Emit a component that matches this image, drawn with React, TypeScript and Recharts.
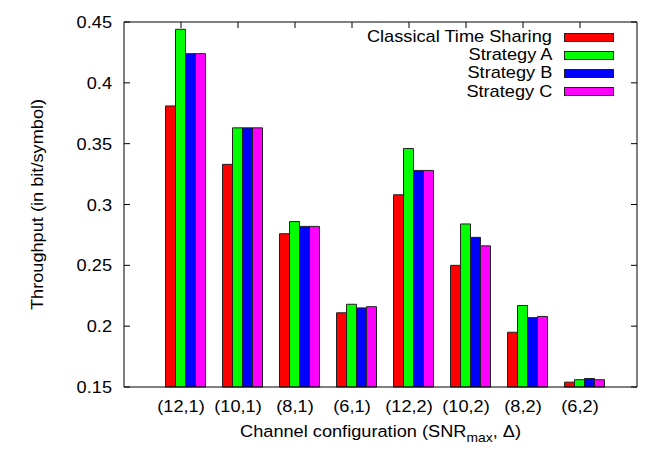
import React from "react";
import { BarChart, Bar, XAxis, YAxis, Legend, CartesianGrid } from "recharts";

const categories = ["(12,1)", "(10,1)", "(8,1)", "(6,1)", "(12,2)", "(10,2)", "(8,2)", "(6,2)"];
const classical = [0.381, 0.333, 0.276, 0.211, 0.308, 0.25, 0.195, 0.154];
const strategyA = [0.444, 0.363, 0.286, 0.218, 0.346, 0.284, 0.217, 0.156];
const strategyB = [0.424, 0.363, 0.282, 0.215, 0.328, 0.273, 0.207, 0.157];
const strategyC = [0.424, 0.363, 0.282, 0.216, 0.328, 0.266, 0.208, 0.156];
const yTicks = [0.15, 0.2, 0.25, 0.3, 0.35, 0.4, 0.45];

const seriesNames = ["Classical Time Sharing", "Strategy A", "Strategy B", "Strategy C"];
const seriesKeys = ["classical", "a", "b", "c"];
const seriesColors = ["#ff0000", "#00ff00", "#0000ff", "#ff00ff"];

const data = categories.map((name, i) => ({
  name,
  classical: classical[i],
  a: strategyA[i],
  b: strategyB[i],
  c: strategyC[i],
}));

const CHART_W = 664;
const CHART_H = 465;
const MARGIN = { top: 22, right: 27, bottom: 0, left: 0 };
const PLOT_RIGHT = CHART_W - MARGIN.right;

const FONT = "'Liberation Sans', Arial, Helvetica, sans-serif";
const FS = 17;
const SX = 1.07;
const TICK_LEN = 6;

const XTick = (props: any) => {
  const { x, y, payload } = props;
  const tx = x - 4;
  return (
    <g>
      <line x1={tx} x2={tx} y1={MARGIN.top} y2={MARGIN.top + TICK_LEN} stroke="#000" strokeWidth={1} />
      <g transform={`translate(${tx},${y + 25})`}>
        <text transform={`scale(${SX},1)`} textAnchor="middle" fontSize={FS} fontFamily={FONT} fill="#000">
          {payload.value}
        </text>
      </g>
    </g>
  );
};

const LeftTick = (props: any) => {
  const { x, y, payload } = props;
  return (
    <g>
      <line x1={x} x2={x + TICK_LEN} y1={y} y2={y} stroke="#000" strokeWidth={1} />
      <line x1={PLOT_RIGHT - TICK_LEN} x2={PLOT_RIGHT} y1={y} y2={y} stroke="#000" strokeWidth={1} />
      <g transform={`translate(${x - 12},${y + 6})`}>
        <text transform={`scale(${SX},1)`} textAnchor="end" fontSize={FS} fontFamily={FONT} fill="#000">
          {String(payload.value)}
        </text>
      </g>
    </g>
  );
};

const YTitle = (props: any) => {
  const vb = props.viewBox || { x: 0, y: 22, width: 124, height: 365 };
  const cx = vb.x + 37.5;
  const cy = vb.y + vb.height / 2;
  return (
    <g transform={`translate(${cx},${cy}) rotate(-90)`}>
      <text
        transform={`scale(${SX},1)`}
        textAnchor="middle"
        dominantBaseline="central"
        fontSize={FS}
        fontFamily={FONT}
        fill="#000"
      >
        Throughput (in bit/symbol)
      </text>
    </g>
  );
};

const XTitle = (props: any) => {
  const vb = props.viewBox || { x: 124, y: 387, width: 513, height: 78 };
  const cx = vb.x + vb.width / 2;
  const cy = vb.y + 50;
  return (
    <g transform={`translate(${cx},${cy})`}>
      <text transform={`scale(${SX},1)`} textAnchor="middle" fontSize={FS} fontFamily={FONT} fill="#000">
        <tspan>Channel configuration (SNR</tspan>
        <tspan fontSize={13} dy={5}>max</tspan>
        <tspan dy={-5}>, Δ)</tspan>
      </text>
    </g>
  );
};

const LegendContent = () => (
  <div style={{ fontFamily: FONT, fontSize: FS, color: "#000" }}>
    {seriesNames.map((n, i) => (
      <div
        key={n}
        style={{ display: "flex", alignItems: "center", justifyContent: "flex-end", height: 18.2 }}
      >
        <span
          style={{
            display: "inline-block",
            transform: `scaleX(${SX})`,
            transformOrigin: "right center",
            whiteSpace: "nowrap",
            lineHeight: "18px",
          }}
        >
          {n}
        </span>
        <span
          style={{
            display: "inline-block",
            width: 48,
            height: 7,
            marginLeft: 12,
            background: seriesColors[i],
            border: "1px solid #222",
          }}
        />
      </div>
    ))}
  </div>
);

export default function App() {
  return (
    <div style={{ position: "absolute", left: 0, top: 0, width: CHART_W, height: CHART_H, background: "#fff" }}>
      <BarChart
        width={CHART_W}
        height={CHART_H}
        data={data}
        margin={MARGIN}
        barCategoryGap={9}
        barGap={0}
      >
        <CartesianGrid
          xAxisId="bottom"
          yAxisId="left"
          stroke="#000"
          strokeWidth={1}
          horizontalCoordinatesGenerator={({ offset }: any) => [offset.top]}
          verticalCoordinatesGenerator={({ offset }: any) => [offset.left + offset.width]}
        />
        <XAxis
          xAxisId="bottom"
          dataKey="name"
          height={78}
          padding={{ left: 32.5, right: 24.5 }}
          tickSize={0}
          tickMargin={0}
          tickLine={false}
          axisLine={{ stroke: "#000", strokeWidth: 1 }}
          tick={<XTick />}
          interval={0}
          label={{ content: <XTitle /> } as any}
        />
        <YAxis
          yAxisId="left"
          type="number"
          width={124}
          domain={[0.15, 0.45]}
          ticks={yTicks}
          interval={0}
          tickSize={0}
          tickMargin={0}
          tickLine={false}
          axisLine={{ stroke: "#000", strokeWidth: 1 }}
          tick={<LeftTick />}
          label={{ content: <YTitle /> } as any}
        />
        <Legend
          layout="vertical"
          align="center"
          verticalAlign="middle"
          content={<LegendContent />}
          wrapperStyle={{ top: 28, right: 50, left: "auto", width: "auto", height: "auto" }}
        />
        {seriesKeys.map((k, i) => (
          <Bar
            key={k}
            xAxisId="bottom"
            yAxisId="left"
            dataKey={k}
            name={seriesNames[i]}
            fill={seriesColors[i]}
            stroke="#222"
            strokeWidth={1}
            isAnimationActive={false}
          />
        ))}
      </BarChart>
    </div>
  );
}
